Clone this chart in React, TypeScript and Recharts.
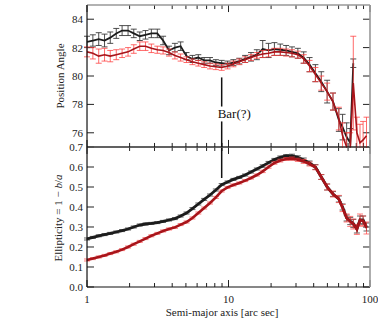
import React from 'react';
import { LineChart, Line, XAxis, YAxis, ErrorBar, ReferenceLine, ReferenceDot } from 'recharts';

// Semi-major axis [arc sec]
const radius = [
  1.0, 1.1, 1.21, 1.33, 1.46, 1.61, 1.77, 1.95, 2.14, 2.36,
  2.59, 2.85, 3.14, 3.45, 3.8, 4.18, 4.59, 5.05, 5.56, 6.12,
  6.73, 7.4, 8.14, 8.95, 9.85, 10.83, 11.92, 13.11, 14.42, 15.86,
  17.45, 19.19, 21.11, 23.23, 25.55, 28.1, 30.91, 34.0, 37.4, 41.14,
  45.26, 49.79, 54.76, 60.24, 64.0, 68.4, 72.5, 76.2, 80.8, 85.0,
  89.4, 94.5,
];

// Position angle, black series
const paBlack = [
  82.4, 82.5, 82.6, 82.5, 82.7, 83.0, 83.2, 83.2, 83.0, 82.8,
  82.9, 83.0, 83.0, 82.5, 81.8, 82.0, 82.1, 81.4, 81.2, 81.3,
  81.1, 81.1, 80.95, 80.9, 80.85, 80.95, 81.05, 81.2, 81.35, 81.5,
  81.9, 81.8, 81.9, 81.85, 81.8, 81.7, 81.6, 81.3, 80.8, 80.2,
  79.6, 78.9, 78.2, 76.9, 76.4, 75.7, 75.3, 80.9, null, null,
  null, null,
];
const paBlackErr = [
  0.4, 0.4, 0.45, 0.45, 0.4, 0.35, 0.35, 0.35, 0.3, 0.3,
  0.3, 0.3, 0.3, 0.3, 0.3, 0.3, 0.3, 0.25, 0.25, 0.2,
  0.2, 0.2, 0.2, 0.2, 0.2, 0.2, 0.2, 0.25, 0.3, 0.35,
  0.6, 0.5, 0.45, 0.4, 0.35, 0.35, 0.35, 0.4, 0.5, 0.6,
  0.7, 0.8, 0.6, 0.8, 0.9, 1.0, 1.0, 0.3, null, null,
  null, null,
];

// Position angle, red series
const paRed = [
  81.7, 81.6, 81.4, 81.5, 81.4, 81.5, 81.6, 81.7, 81.9, 82.1,
  82.1, 81.95, 81.85, 81.8, 81.65, 81.45, 81.3, 81.15, 81.0, 80.9,
  80.8, 80.7, 80.65, 80.6, 80.7, 80.85, 81.0, 81.15, 81.3, 81.45,
  81.55, 81.6, 81.7, 81.7, 81.65, 81.6, 81.5, 81.2, 80.7, 80.1,
  79.5, 78.9, 78.2, 77.0, 75.8, 75.0, 74.8, 79.5, 76.0, 75.3,
  75.5, 75.8,
];
const paRedErr = [
  0.35, 0.4, 0.5, 0.45, 0.4, 0.35, 0.3, 0.3, 0.3, 0.3,
  0.3, 0.3, 0.25, 0.25, 0.25, 0.25, 0.25, 0.2, 0.2, 0.2,
  0.2, 0.2, 0.2, 0.2, 0.2, 0.2, 0.2, 0.2, 0.2, 0.2,
  0.25, 0.25, 0.25, 0.25, 0.25, 0.25, 0.25, 0.3, 0.4, 0.5,
  0.5, 0.6, 0.6, 0.8, 0.9, 1.0, 1.2, 3.3, 1.1, 1.3,
  1.3, 1.3,
];

// Ellipticity, black series
const ellBlack = [
  0.24, 0.248, 0.256, 0.262, 0.268, 0.275, 0.282, 0.29, 0.3, 0.31,
  0.315, 0.318, 0.322, 0.328, 0.335, 0.342, 0.355, 0.37, 0.392, 0.415,
  0.438, 0.46, 0.485, 0.512, 0.525, 0.538, 0.548, 0.56, 0.575, 0.59,
  0.605, 0.622, 0.637, 0.648, 0.655, 0.656, 0.648, 0.635, 0.62, 0.6,
  0.55, 0.5, 0.465, 0.44, 0.4, 0.345, 0.33, 0.318, 0.29, 0.335,
  0.335, 0.3,
];
const ellBlackErr = [
  0.005, 0.005, 0.005, 0.005, 0.005, 0.005, 0.005, 0.005, 0.005, 0.005,
  0.005, 0.005, 0.005, 0.005, 0.005, 0.005, 0.005, 0.005, 0.005, 0.005,
  0.005, 0.005, 0.005, 0.005, 0.005, 0.005, 0.005, 0.005, 0.005, 0.005,
  0.006, 0.006, 0.006, 0.007, 0.007, 0.008, 0.008, 0.01, 0.01, 0.012,
  0.012, 0.015, 0.012, 0.015, 0.015, 0.015, 0.018, 0.02, 0.02, 0.02,
  0.02, 0.02,
];

// Ellipticity, red series
const ellRed = [
  0.135, 0.142, 0.15, 0.158, 0.167, 0.176, 0.187, 0.2, 0.214, 0.228,
  0.242, 0.256, 0.268, 0.28, 0.29, 0.298, 0.312, 0.325, 0.345, 0.37,
  0.395, 0.42, 0.448, 0.48, 0.498, 0.51, 0.52, 0.532, 0.545, 0.56,
  0.578, 0.6, 0.62, 0.632, 0.64, 0.642, 0.636, 0.628, 0.615, 0.598,
  0.55, 0.5, 0.465, 0.44, 0.395, 0.345, 0.328, 0.315, 0.288, 0.335,
  0.33, 0.295,
];
const ellRedErr = [
  0.005, 0.005, 0.005, 0.005, 0.005, 0.005, 0.005, 0.005, 0.005, 0.005,
  0.005, 0.005, 0.005, 0.005, 0.005, 0.005, 0.005, 0.005, 0.005, 0.005,
  0.005, 0.005, 0.005, 0.005, 0.005, 0.005, 0.005, 0.005, 0.005, 0.005,
  0.006, 0.006, 0.006, 0.007, 0.007, 0.008, 0.008, 0.01, 0.01, 0.012,
  0.012, 0.015, 0.015, 0.018, 0.018, 0.02, 0.025, 0.025, 0.025, 0.03,
  0.025, 0.03,
];

const MAJOR_X = [1, 10, 100];
const MINOR_X = [2, 3, 4, 5, 6, 7, 8, 9, 20, 30, 40, 50, 60, 70, 80, 90];
const PA_TICKS = [76, 78, 80, 82, 84];
const ELL_TICKS = [0, 0.1, 0.2, 0.3, 0.4, 0.5, 0.6, 0.7];
const PA_DOMAIN = [75, 85];
const ELL_DOMAIN = [0, 0.7];
const BAR_R = 8.95;

const paData = radius.map((r, i) => ({
  r,
  pb: paBlack[i],
  pbe: paBlackErr[i],
  pr: paRed[i],
  pre: paRedErr[i],
}));
const ellData = radius.map((r, i) => ({
  r,
  eb: ellBlack[i],
  ebe: ellBlackErr[i],
  er: ellRed[i],
  ere: ellRedErr[i],
}));

const FONT = '"Liberation Serif", "DejaVu Serif", serif';
const W = 378;
const H = 318;
const THIN = 0.01;
const PLOT_W = 283; // px, 1 .. 100 on the log axis
const PANEL_H = 141; // px per panel
const MAJOR_PX = 7;
const MINOR_PX = 4;
const tickStyle = { fill: '#222', fontSize: 11, fontFamily: FONT };
const darkAxis = { stroke: '#111', strokeWidth: 1.2 };
const greyAxis = { stroke: '#999', strokeWidth: 1.6 };
const TICK_COLOR = '#222';

const BLACK_LINE = '#1c1c1c';
const BLACK_ERR = '#3a3a3a';
const RED_LINE = '#a8141a';
const RED_ERR = '#ff3b3b';

const logX = {
  dataKey: 'r',
  type: 'number' as const,
  scale: 'log' as const,
  domain: [1, 100],
  allowDataOverflow: true,
  interval: 0 as const,
  height: THIN,
};

function axes(domain: number[], yTicks: number[], showXLabels: boolean, fmt?: (v: number) => string) {
  const yBase = {
    type: 'number' as const,
    domain,
    allowDataOverflow: true,
    ticks: yTicks,
    interval: 0 as const,
    width: THIN,
  };
  return [
    <XAxis
      key="main"
      xAxisId="main"
      {...logX}
      ticks={MAJOR_X}
      tickSize={0}
      tickMargin={8}
      tick={showXLabels ? tickStyle : false}
      tickLine={false}
      axisLine={darkAxis}
    />,
    <XAxis key="top" xAxisId="top" {...logX} orientation="top" ticks={MAJOR_X} tick={false} tickLine={false} axisLine={greyAxis} />,
    <YAxis
      key="left"
      yAxisId="left"
      {...yBase}
      tickSize={0}
      tickMargin={4}
      tick={tickStyle}
      tickFormatter={fmt}
      tickLine={false}
      axisLine={darkAxis}
    />,
    <YAxis key="right" yAxisId="right" {...yBase} orientation="right" tick={false} tickLine={false} axisLine={greyAxis} />,
  ];
}

// Inward-pointing tick marks (top, bottom, left, right), placed in data space.
function innerTicks(domain: number[], yTicks: number[]) {
  const [y0, y1] = domain;
  const perPx = (y1 - y0) / PANEL_H;
  const xStep = Math.pow(100, MAJOR_PX / PLOT_W);
  const out: React.ReactNode[] = [];
  const xt = (x: number, len: number, k: string) => {
    out.push(
      <ReferenceLine key={`b${k}`} xAxisId="main" yAxisId="left" stroke={TICK_COLOR} strokeWidth={1}
        segment={[{ x, y: y0 }, { x, y: y0 + len * perPx }]} />,
      <ReferenceLine key={`t${k}`} xAxisId="main" yAxisId="left" stroke={TICK_COLOR} strokeWidth={1}
        segment={[{ x, y: y1 }, { x, y: y1 - len * perPx }]} />,
    );
  };
  MAJOR_X.forEach((x) => xt(x, MAJOR_PX, `M${x}`));
  MINOR_X.forEach((x) => xt(x, MINOR_PX, `m${x}`));
  yTicks.forEach((y) => {
    out.push(
      <ReferenceLine key={`l${y}`} xAxisId="main" yAxisId="left" stroke={TICK_COLOR} strokeWidth={1}
        segment={[{ x: 1, y }, { x: xStep, y }]} />,
      <ReferenceLine key={`r${y}`} xAxisId="main" yAxisId="left" stroke={TICK_COLOR} strokeWidth={1}
        segment={[{ x: 100 / xStep, y }, { x: 100, y }]} />,
    );
  });
  return out;
}

export default function App() {
  return (
    <div style={{ position: 'absolute', left: 0, top: 0, width: W, height: H, background: '#fff' }}>
      {/* Bottom panel: ellipticity */}
      <LineChart
        width={W}
        height={H}
        data={ellData}
        margin={{ top: 147, right: 8, bottom: 31, left: 87 }}
        style={{ position: 'absolute', left: 0, top: 0 }}
      >
        {axes(ELL_DOMAIN, ELL_TICKS, true, (v: number) => v.toFixed(1))}
        {innerTicks(ELL_DOMAIN, ELL_TICKS)}
        <ReferenceLine
          xAxisId="main"
          yAxisId="left"
          segment={[{ x: BAR_R, y: 0.7 }, { x: BAR_R, y: 0.545 }]}
          stroke="#111"
          strokeWidth={1.5}
        />
        <Line
          xAxisId="main"
          yAxisId="left"
          dataKey="eb"
          stroke={BLACK_LINE}
          strokeWidth={2.8}
          dot={false}
          isAnimationActive={false}
        >
          <ErrorBar dataKey="ebe" width={3} stroke={BLACK_ERR} strokeWidth={0.8} direction="y" />
        </Line>
        <Line
          xAxisId="main"
          yAxisId="left"
          dataKey="er"
          stroke={RED_LINE}
          strokeWidth={2.6}
          dot={false}
          isAnimationActive={false}
        >
          <ErrorBar dataKey="ere" width={3} stroke={RED_ERR} strokeWidth={0.8} strokeOpacity={0.85} direction="y" />
        </Line>
      </LineChart>

      {/* Top panel: position angle (clipped at the panel divider) */}
      <div style={{ position: 'absolute', left: 0, top: 0, width: W, height: 148, overflow: 'hidden' }}>
        <LineChart
          width={W}
          height={H}
          data={paData}
          margin={{ top: 5, right: 8, bottom: 171, left: 87 }}
          style={{ position: 'absolute', left: 0, top: 0 }}
        >
          {axes(PA_DOMAIN, PA_TICKS, false)}
          {innerTicks(PA_DOMAIN, PA_TICKS)}
          <ReferenceLine
            xAxisId="main"
            yAxisId="left"
            segment={[{ x: BAR_R, y: 79.9 }, { x: BAR_R, y: 77.85 }]}
            stroke="#111"
            strokeWidth={1.5}
          />
          <ReferenceLine
            xAxisId="main"
            yAxisId="left"
            segment={[{ x: BAR_R, y: 76.8 }, { x: BAR_R, y: 75 }]}
            stroke="#111"
            strokeWidth={1.5}
          />
          <ReferenceDot
            xAxisId="main"
            yAxisId="left"
            x={BAR_R}
            y={77.35}
            r={0}
            fill="none"
            stroke="none"
            label={{ value: 'Bar(?)', position: 'right', offset: -4, fontSize: 13, fill: '#111', fontFamily: FONT }}
          />
          <Line
            xAxisId="main"
            yAxisId="left"
            dataKey="pb"
            stroke={BLACK_LINE}
            strokeWidth={1.8}
            dot={false}
            isAnimationActive={false}
          >
            <ErrorBar dataKey="pbe" width={3} stroke={BLACK_ERR} strokeWidth={0.9} direction="y" />
          </Line>
          <Line
            xAxisId="main"
            yAxisId="left"
            dataKey="pr"
            stroke={RED_LINE}
            strokeWidth={1.6}
            dot={false}
            isAnimationActive={false}
          >
            <ErrorBar dataKey="pre" width={3} stroke={RED_ERR} strokeWidth={0.9} strokeOpacity={0.85} direction="y" />
          </Line>
        </LineChart>
      </div>

      {/* Axis titles */}
      <svg
        width={W}
        height={H}
        style={{ position: 'absolute', left: 0, top: 0, pointerEvents: 'none' }}
        fontFamily={FONT}
      >
        <text x={60} y={76} transform="rotate(-90 60 76)" textAnchor="middle" dominantBaseline="central" fontSize={11} fill="#222">
          Position Angle
        </text>
        <text x={58} y={218} transform="rotate(-90 58 218)" textAnchor="middle" dominantBaseline="central" fontSize={11} fill="#222">
          Ellipticity = 1 − <tspan fontStyle="italic">b</tspan>/<tspan fontStyle="italic">a</tspan>
        </text>
        <text x={222} y={312} textAnchor="middle" dominantBaseline="central" fontSize={11} fill="#222">
          Semi-major axis [arc sec]
        </text>
      </svg>
    </div>
  );
}
